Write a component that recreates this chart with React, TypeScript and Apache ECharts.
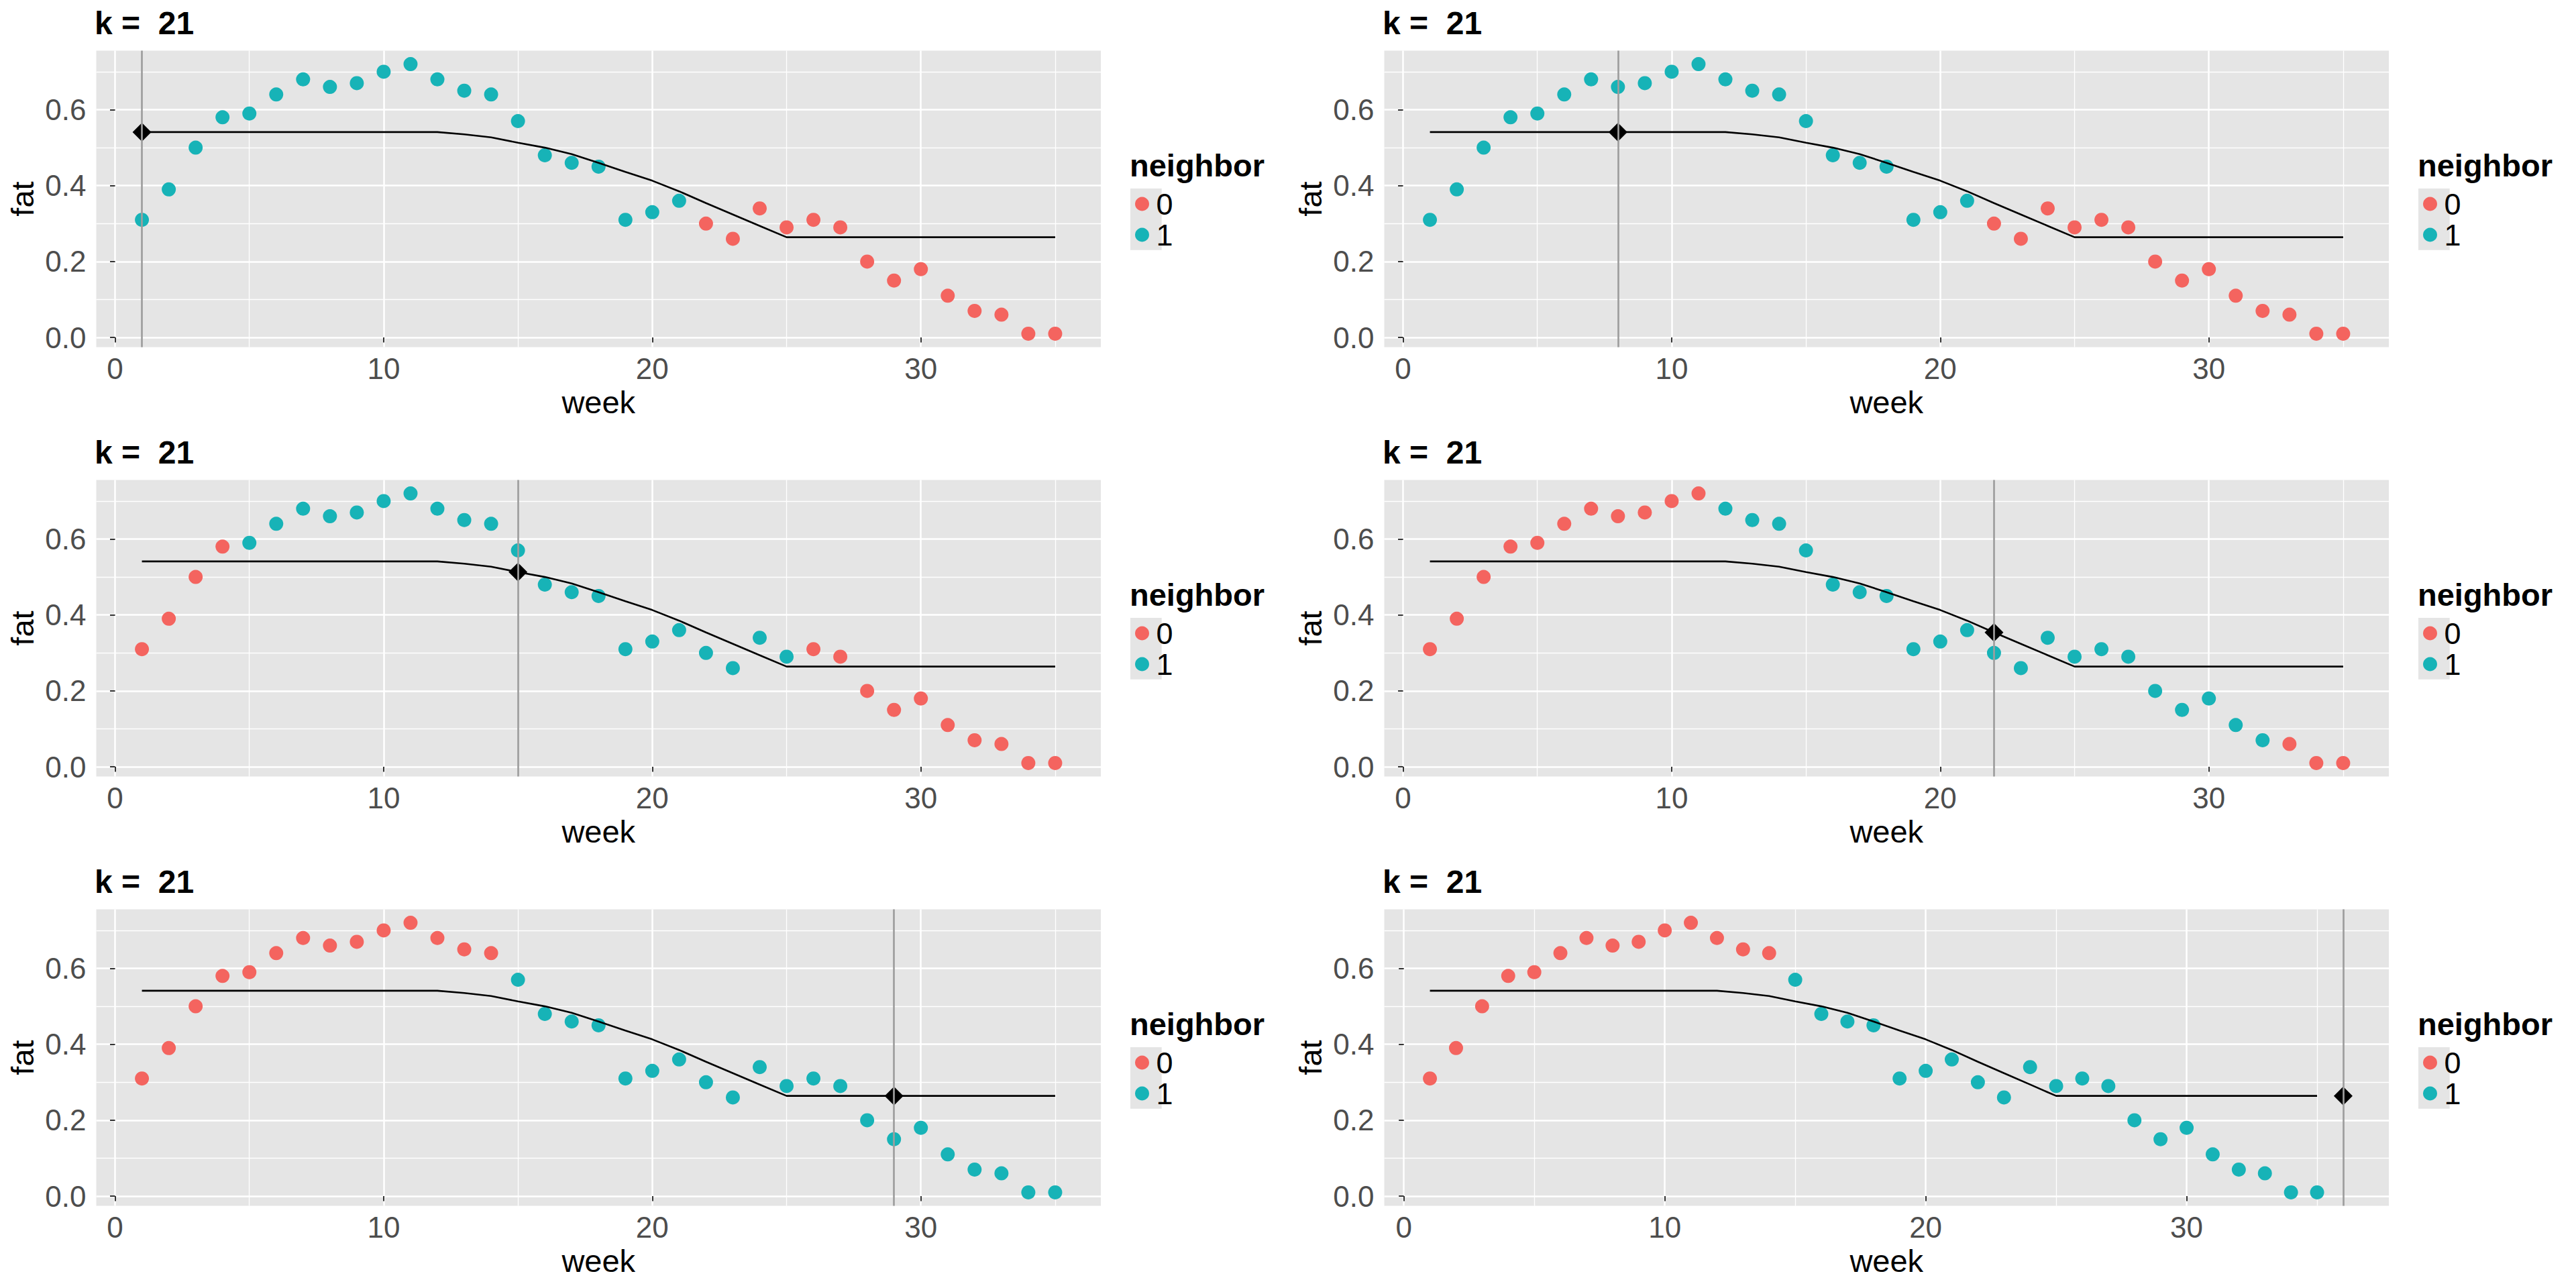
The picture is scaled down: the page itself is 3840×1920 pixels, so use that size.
import { useEffect, useRef } from "react"
import * as echarts from "echarts"

const weeks = [
  1, 2, 3, 4, 5, 6, 7, 8, 9, 10, 11, 12, 13, 14, 15, 16, 17, 18,
  19, 20, 21, 22, 23, 24, 25, 26, 27, 28, 29, 30, 31, 32, 33, 34, 35,
]
const fat = [
  0.31, 0.39, 0.5, 0.58, 0.59, 0.64, 0.68, 0.66, 0.67, 0.7, 0.72, 0.68, 0.65, 0.64, 0.57, 0.48, 0.46, 0.45,
  0.31, 0.33, 0.36, 0.3, 0.26, 0.34, 0.29, 0.31, 0.29, 0.2, 0.15, 0.18, 0.11, 0.07, 0.06, 0.01, 0.01,
]
// k = 21 nearest-neighbour fit
const fitted = [
  0.541, 0.541, 0.541, 0.541, 0.541, 0.541, 0.541, 0.541, 0.541, 0.541, 0.541, 0.541, 0.535, 0.527, 0.513, 0.5, 0.483, 0.46,
  0.436, 0.413, 0.385, 0.354, 0.324, 0.294, 0.264, 0.264, 0.264, 0.264, 0.264, 0.264, 0.264, 0.264, 0.264, 0.264, 0.264,
]

// one panel per query week
const queryWeeks = [1, 8, 15, 22, 29, 36]
const neighborFrom = [1, 1, 5, 12, 15, 15]
const neighborTo = [21, 21, 25, 32, 35, 35]
const xRangeMin = [-0.7, -0.7, -0.7, -0.7, -0.7, -0.75]
const xRangeMax = [36.7, 36.7, 36.7, 36.7, 36.7, 37.75]
const yRange = [-0.0255, 0.7555]

const xMajor = [0, 10, 20, 30]
const xMinor = [5, 15, 25, 35]
const yMajor = [0, 0.2, 0.4, 0.6]
const yMinor = [0.1, 0.3, 0.5, 0.7]

const legendLevels = ["0", "1"]
const titleText = "k =  21"

const FONT = "Liberation Sans, Arial, sans-serif"
const RED = "#F4645F"
const TEAL = "#17B3B7"
const PANEL_BG = "#E5E5E5"

function buildOption() {
  const grid: any[] = []
  const xAxis: any[] = []
  const yAxis: any[] = []
  const series: any[] = []
  const title: any[] = []
  const legend: any[] = []
  const graphic: any[] = []

  queryWeeks.forEach((q, i) => {
    const ox = (i % 2) * 1920
    const oy = Math.floor(i / 2) * 640

    grid.push({
      left: ox + 143.5,
      top: oy + 75.5,
      width: 1497.5,
      height: 442,
      show: true,
      backgroundColor: PANEL_BG,
      borderWidth: 0,
    })

    const xBase = { type: "value", gridIndex: i, min: xRangeMin[i], max: xRangeMax[i] }
    const yBase = { type: "value", gridIndex: i, min: yRange[0], max: yRange[1] }

    xAxis.push({
      ...xBase,
      position: "bottom",
      axisLine: { show: false },
      axisTick: { show: true, length: 7.5, lineStyle: { color: "#333333", width: 2 }, customValues: xMajor },
      axisLabel: { customValues: xMajor, margin: 10, fontSize: 44, color: "#4D4D4D", fontFamily: FONT },
      splitLine: { show: true, lineStyle: { color: "#FFFFFF", width: 2.5 } },
      name: "week",
      nameLocation: "middle",
      nameGap: 58,
      nameTextStyle: { fontSize: 47, color: "#000000", fontFamily: FONT },
    })
    xAxis.push({
      ...xBase,
      position: "top",
      axisLine: { show: false },
      axisTick: { show: false, customValues: xMinor },
      axisLabel: { show: false },
      splitLine: { show: true, lineStyle: { color: "#FFFFFF", width: 1.3 } },
    })

    yAxis.push({
      ...yBase,
      position: "left",
      axisLine: { show: false },
      axisTick: { show: true, length: 7.5, lineStyle: { color: "#333333", width: 2 }, customValues: yMajor },
      axisLabel: {
        customValues: yMajor,
        margin: 15,
        fontSize: 44,
        color: "#4D4D4D",
        fontFamily: FONT,
        formatter: (v: number) => v.toFixed(1),
      },
      splitLine: { show: true, lineStyle: { color: "#FFFFFF", width: 2.5 } },
      name: "fat",
      nameLocation: "middle",
      nameGap: 87,
      nameTextStyle: { fontSize: 47, color: "#000000", fontFamily: FONT },
    })
    yAxis.push({
      ...yBase,
      position: "right",
      axisLine: { show: false },
      axisTick: { show: false, customValues: yMinor },
      axisLabel: { show: false },
      splitLine: { show: true, lineStyle: { color: "#FFFFFF", width: 1.3 } },
    })

    const axes = { xAxisIndex: 2 * i, yAxisIndex: 2 * i }
    const isNeighbor = (w: number) => w >= neighborFrom[i] && w <= neighborTo[i]

    series.push({
      type: "scatter",
      name: "query line",
      ...axes,
      data: [],
      z: 1,
      markLine: {
        silent: true,
        symbol: ["none", "none"],
        label: { show: false },
        lineStyle: { color: "#9E9E9E", width: 2.7, type: "solid", opacity: 1 },
        emphasis: { disabled: true },
        data: [{ xAxis: q }],
      },
    })
    series.push({
      type: "scatter",
      name: legendLevels[0],
      ...axes,
      symbolSize: 21,
      itemStyle: { color: RED, opacity: 1 },
      z: 2,
      data: weeks.filter((w) => !isNeighbor(w)).map((w) => [w, fat[w - 1]]),
    })
    series.push({
      type: "scatter",
      name: legendLevels[1],
      ...axes,
      symbolSize: 21,
      itemStyle: { color: TEAL, opacity: 1 },
      z: 2,
      data: weeks.filter((w) => isNeighbor(w)).map((w) => [w, fat[w - 1]]),
    })
    series.push({
      type: "line",
      name: "fit",
      ...axes,
      symbol: "none",
      showSymbol: false,
      lineStyle: { color: "#000000", width: 2.6 },
      z: 3,
      data: weeks.map((w, j) => [w, fitted[j]]),
    })
    series.push({
      type: "scatter",
      name: "query",
      ...axes,
      symbol: "diamond",
      symbolSize: 28,
      itemStyle: { color: "#000000", opacity: 1 },
      z: 4,
      data: [[q, fitted[Math.min(q, weeks.length) - 1]]],
    })

    title.push({
      text: titleText,
      left: ox + 141,
      top: oy + 10,
      padding: 0,
      textStyle: { fontSize: 48, fontWeight: "bold", color: "#000000", fontFamily: FONT },
    })

    legend.push({
      orient: "vertical",
      left: ox + 1692,
      top: oy + 281,
      padding: 0,
      itemGap: 0,
      itemWidth: 32,
      itemHeight: 21,
      icon: "circle",
      selectedMode: false,
      data: legendLevels,
      itemStyle: { opacity: 1 },
      textStyle: { fontSize: 45, lineHeight: 46, color: "#000000", fontFamily: FONT },
    })

    graphic.push({
      type: "rect",
      shape: { x: ox + 1685, y: oy + 281, width: 46.7, height: 91.7 },
      style: { fill: PANEL_BG },
      silent: true,
    })
    graphic.push({
      type: "text",
      x: ox + 1684,
      y: oy + 246,
      silent: true,
      style: {
        text: "neighbor",
        fill: "#000000",
        font: `bold 47px ${FONT}`,
        verticalAlign: "middle",
        align: "left",
      },
    })
  })

  return { animation: false, backgroundColor: "#FFFFFF", grid, xAxis, yAxis, series, title, legend, graphic }
}

export default function App() {
  const chartRef = useRef<HTMLDivElement>(null)

  useEffect(() => {
    if (!chartRef.current) return
    document.body.style.margin = "0"
    const instance = echarts.init(chartRef.current, undefined, { renderer: "svg", width: 3840, height: 1920 })
    instance.setOption(buildOption())
    return () => {
      instance.dispose()
    }
  }, [])

  return <div ref={chartRef} style={{ width: 3840, height: 1920 }} />
}
